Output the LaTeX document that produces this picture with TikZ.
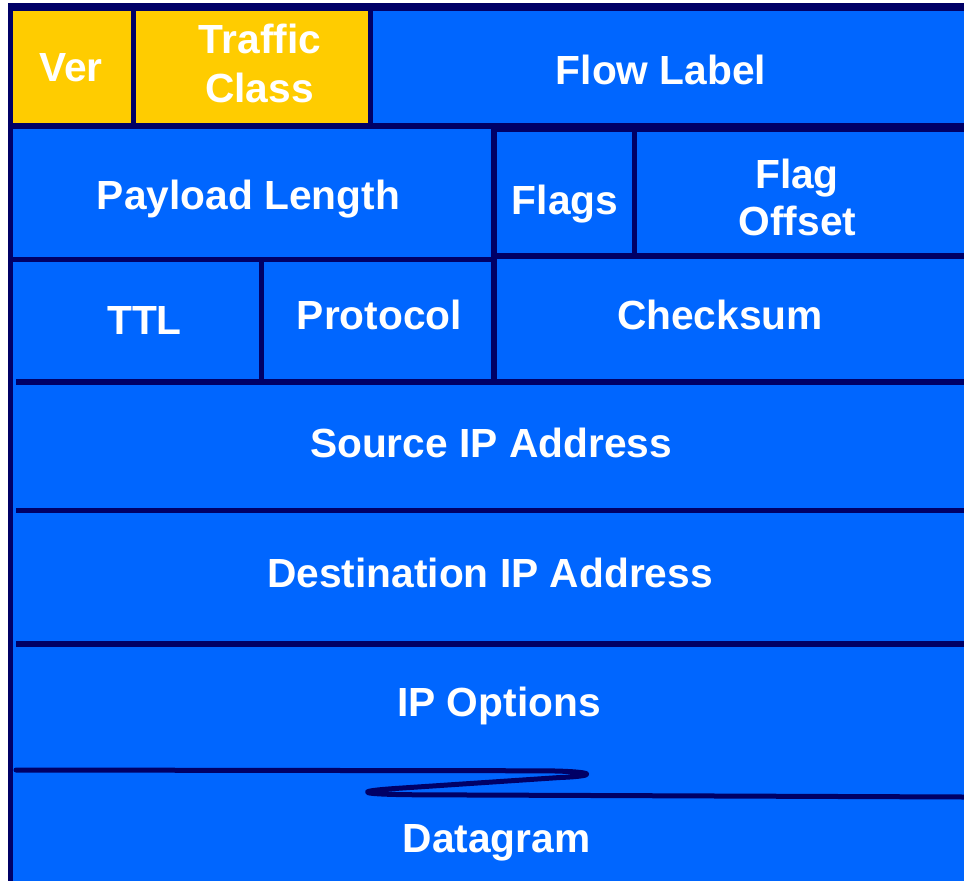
\documentclass[tikz,border=0pt]{standalone}
\usepackage{fontspec}
\setmainfont{Liberation Sans}
\definecolor{navy}{RGB}{0,0,102}
\definecolor{fieldblue}{RGB}{0,102,255}
\definecolor{fieldgold}{RGB}{255,204,0}
\begin{document}
\begin{tikzpicture}[x=1pt,y=-1pt,
  cell/.style={anchor=north west,inner sep=0pt,outer sep=0pt,draw=none,fill=fieldblue},
  gold/.style={cell,fill=fieldgold},
  lbl/.style={anchor=base,inner sep=0pt,text=white,font=\fontsize{40.7pt}{48pt}\selectfont\bfseries}]
\useasboundingbox (0,0) rectangle (964,881);
% frame: the navy background shows through as the separating rules
\fill[navy] (8,3) rectangle (964,881);
% row 1
\node[gold,minimum width=118pt,minimum height=112pt] (ver) at (13,11) {};
\node[gold,minimum width=232pt,minimum height=112pt] (tc) at (136,11) {};
\node[cell,minimum width=591pt,minimum height=112pt] (fl) at (373,11) {};
% row 2
\node[cell,minimum width=478pt,minimum height=128pt] (pl) at (13,129) {};
\node[cell,minimum width=135pt,minimum height=121pt] (flags) at (497,132) {};
\node[cell,minimum width=327pt,minimum height=121pt] (fo) at (637,132) {};
% row 3
\node[cell,minimum width=246pt,minimum height=117pt] (ttl) at (13,262) {};
\node[cell,minimum width=227pt,minimum height=117pt] (proto) at (264,262) {};
\node[cell,minimum width=467pt,minimum height=120pt] (cks) at (497,259) {};
% rows 4 to 6
\node[cell,minimum width=951pt,minimum height=123pt] (src) at (13,385) {};
\node[cell,minimum width=951pt,minimum height=128pt] (dst) at (13,513) {};
\node[cell,minimum width=951pt,minimum height=234pt] (opt) at (13,647) {};
% the lower rules stop short of the left border
\fill[fieldblue] (13,379) rectangle (16,881);
% break line between options and the datagram
\draw[navy,line width=5pt,line cap=round,line join=round]
  (16,770) -- (545,770.8)
  .. controls (598,771.5) and (598,776) .. (560,777.5)
  -- (395,788.5)
  .. controls (352,791.5) and (358,794.5) .. (420,794.8)
  -- (964,797);
% labels
\node[lbl] (tver) at (71,81.7) {Ver};
\node[lbl] (ttc1) at (260,53) {Traffic};
\node[lbl] (ttc2) at (259.5,102) {Class};
\node[lbl] (tfl) at (661,84) {Flow Label};
\node[lbl] (tpl) at (248.5,209) {Payload Length};
\node[lbl] (tflags) at (565,214) {Flags};
\node[lbl] (tfo1) at (797,188) {Flag};
\node[lbl] (tfo2) at (797.5,235) {Offset};
\node[lbl] (tttl) at (144.5,334) {TTL};
\node[lbl] (tproto) at (379.5,329) {Protocol};
\node[lbl] (tcks) at (720,329) {Checksum};
\node[lbl] (tsrc) at (491,457) {Source IP Address};
\node[lbl] (tdst) at (490,587) {Destination IP Address};
\node[lbl] (topt) at (499,716) {IP Options};
\node[lbl] (tdg) at (496.5,852) {Datagram};
\end{tikzpicture}
\end{document}
